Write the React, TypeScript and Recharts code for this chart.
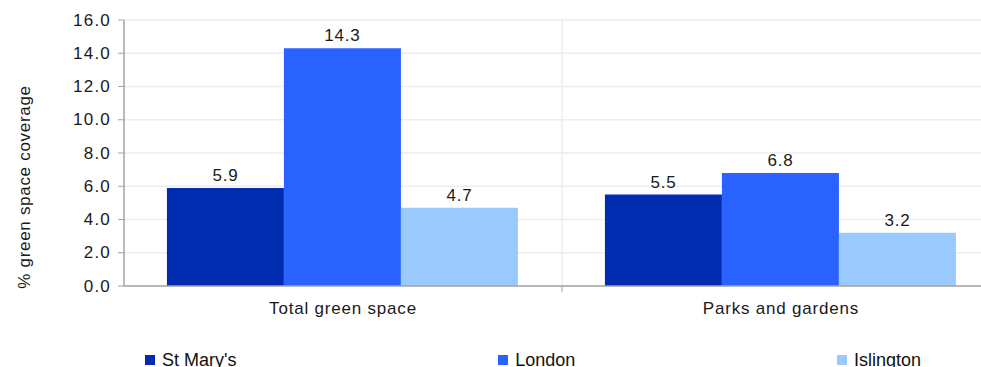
import React from 'react';
import {
  BarChart,
  Bar,
  XAxis,
  YAxis,
  CartesianGrid,
  LabelList,
} from 'recharts';

// categories along the x axis
const categories = ['Total green space', 'Parks and gardens'];

// series values (% green space coverage)
const stMarys = [5.9, 5.5];
const london = [14.3, 6.8];
const islington = [4.7, 3.2];

const yTicks = [0, 2, 4, 6, 8, 10, 12, 14, 16];

const seriesNames = ["St Mary's", 'London', 'Islington'];
const seriesKeys = ['stMarys', 'london', 'islington'];
const seriesColors = ['#002db0', '#2962ff', '#99c9fd'];

const data = categories.map((name, i) => ({
  name,
  stMarys: stMarys[i],
  london: london[i],
  islington: islington[i],
}));

const FONT = '"Liberation Sans", Arial, sans-serif';
const AXIS_GREY = '#a3a3a3';

// category label plus the boundary tick mark between categories
const CategoryTick = (props: any) => {
  const { x, y, payload, index } = props;
  const half = payload?.offset ?? 0;
  return (
    <g>
      {index < categories.length - 1 && (
        <line x1={x + half} x2={x + half} y1={y - 8} y2={y - 2} stroke={AXIS_GREY} strokeWidth={1} />
      )}
      <text
        x={x}
        y={y + 20}
        textAnchor="middle"
        fill="#1a1a1a"
        fontSize={17}
        fontFamily={FONT}
        letterSpacing={0.8}
      >
        {payload.value}
      </text>
    </g>
  );
};

const YTick = (props: any) => {
  const { x, y, payload } = props;
  return (
    <text
      x={x}
      y={y}
      textAnchor="end"
      dominantBaseline="central"
      fill="#1a1a1a"
      fontSize={17}
      fontFamily={FONT}
      letterSpacing={1.2}
    >
      {Number(payload.value).toFixed(1)}
    </text>
  );
};

const YLabel = (props: any) => {
  const { viewBox } = props;
  const cx = viewBox.x + 24;
  const cy = viewBox.y + viewBox.height / 2 + 34;
  return (
    <text
      x={cx}
      y={cy}
      transform={`rotate(-90, ${cx}, ${cy})`}
      textAnchor="middle"
      dominantBaseline="central"
      fill="#1a1a1a"
      fontSize={17}
      fontFamily={FONT}
      letterSpacing={0.7}
    >
      % green space coverage
    </text>
  );
};

const App: React.FC = () => {
  return (
    <div
      style={{
        position: 'fixed',
        top: 0,
        left: 0,
        width: 981,
        height: 367,
        overflow: 'hidden',
        background: '#fff',
      }}
    >
      <BarChart
        width={1000}
        height={367}
        data={data}
        margin={{ top: 20, right: 0, bottom: 51, left: 0 }}
        barCategoryGap="9.8%"
        barGap={0}
      >
        <CartesianGrid
          stroke="#ededed"
          strokeWidth={1.5}
          verticalCoordinatesGenerator={({ offset }: any) =>
            categories.slice(1).map((_, i) => offset.left + ((i + 1) * offset.width) / categories.length)
          }
        />
        <XAxis
          dataKey="name"
          height={30}
          axisLine={{ stroke: AXIS_GREY, strokeWidth: 1.5 }}
          tickLine={false}
          interval={0}
          tick={<CategoryTick />}
        />
        <YAxis
          width={124}
          domain={[0, 16]}
          ticks={yTicks}
          axisLine={{ stroke: AXIS_GREY, strokeWidth: 1.5 }}
          tickLine={{ stroke: AXIS_GREY }}
          tickSize={6}
          tickMargin={7}
          tick={<YTick />}
          label={<YLabel />}
        />
        {seriesKeys.map((key, i) => (
          <Bar key={key} dataKey={key} fill={seriesColors[i]} isAnimationActive={false}>
            <LabelList
              dataKey={key}
              position="top"
              offset={7}
              formatter={(v: any) => Number(v).toFixed(1)}
              style={{ fill: '#1a1a1a', fontSize: 17, fontFamily: FONT, letterSpacing: 0.8 }}
            />
          </Bar>
        ))}
      </BarChart>
      <div
        style={{
          position: 'absolute',
          top: 350,
          left: 145,
          width: 776,
          display: 'flex',
          justifyContent: 'space-between',
          fontFamily: FONT,
          fontSize: 18,
          lineHeight: '20px',
          color: '#111',
        }}
      >
        {seriesNames.map((name, i) => (
          <div key={name} style={{ display: 'flex', alignItems: 'center' }}>
            <span
              style={{
                display: 'inline-block',
                width: 10,
                height: 10,
                background: seriesColors[i],
                marginRight: 7,
              }}
            />
            <span>{name}</span>
          </div>
        ))}
      </div>
    </div>
  );
};

export default App;
